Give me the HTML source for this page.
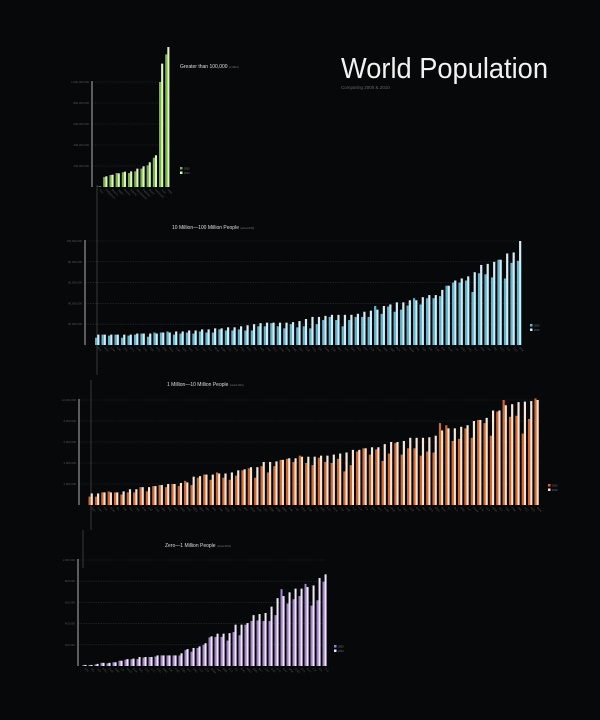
<!DOCTYPE html>
<html><head><meta charset="utf-8">
<style>
html,body{margin:0;padding:0;background:#070809;width:600px;height:720px;overflow:hidden}
svg{display:block;font-family:"Liberation Sans",sans-serif}
</style></head>
<body>
<svg id="chart" width="600" height="720" viewBox="0 0 600 720">
<rect x="0" y="0" width="600" height="720" fill="#070809"/>
<text x="341" y="78" font-size="29" fill="#f2f2f2" textLength="207" lengthAdjust="spacingAndGlyphs">World Population</text>
<text x="341" y="89" font-size="4.5" fill="#666">Comparing 2000 &amp; 2010</text>
<line x1="97" y1="185" x2="97" y2="375" stroke="#444" stroke-width="0.8"/>
<line x1="91" y1="380" x2="91" y2="530" stroke="#444" stroke-width="0.8"/>
<line x1="83" y1="530" x2="83" y2="568" stroke="#444" stroke-width="0.8"/>
</svg>
<script>
// ---- Chart 1: greater than 100 million (values in millions)
const cats1 = ["Key","Philippines","Mexico","Japan","Russia","Nigeria","Bangladesh","Pakistan","Brazil","Indonesia","USA","India","China"];
const s1_2000 = [3,95,114,133,140,133,149,175,206,279,1000,1263];
const s1_2010 = [4,102,117,130,146,149,175,197,235,302,1175,1333];
const ticks1 = ["200,000,000","400,000,000","600,000,000","800,000,000","1,000,000,000"];
const tickVals1 = [200,400,600,800,1000];

// ---- Chart 2: 10M-100M (percent of 100M)
const cats2 = "IRQ MOZ GHA NPL VEN MYS UZB SAU PRK AFG PER ROU TWN YEM AUS CIV SYR LKA MDG CMR CHL NLD KAZ BFA MLI NER MWI ECU GTM KHM ZMB SEN ZWE TCD GIN RWA CUB BEL TUN GRC BOL PRT CZE HUN SRB SWE BLR AUT DOM HTI AZE BDI CHE ISR BGR TJK HND LAO SLV PRY LBY NIC KGZ SLE TGO DNK".split(" ");
const s2_2000 = [7,10,9,10,7,9,10,11,8,12,12,13,10,11,12,11,13,12,12,15,14,14,15,14,
 14,18,18,21,18,16,20,17,18,16,20,24,27,24,18,24,27,27,27,37.5,30,37,32,34,38,45,39,45,45,47,57,60,60,62,51,69,68,65,82,64,79,81];
const s2_2010 = [10,10,10,10,10,10,11,11,11,11,12,12,13,13,14,14,15,15,16,16,17,17,18,19,
 20,21,21.5,21.5,21.5,21.5,22,23,25,27,27,28,29,29,29,29,30,32,33,34,37.5,39,41,41,43,43,46,48,48,53,57,62,64,66,70,77,78,80,82,88,89,100];
const ticks2 = ["20,000,000","40,000,000","60,000,000","80,000,000","100,000,000"];

// ---- Chart 3: 1M-10M (percent of 10M)
const cats3 = "DNK SVK FIN NOR IRL CRI NZL LBR PSE CAF COG LBN PAN MRT OMN KWT GEO MDA BIH URY JAM ARM ALB LTU QAT MNG NAM LSO BWA GMB MKD SVN LVA GNB GAB TTO BHR EST MUS CYP SWZ TLS DJI FJI GUY BTN COM MNE SLB LUX SUR CPV MLT BRN MDV BHS ISL BLZ BRB VUT WSM STP LCA GRD VCT TON FSM KIR SYC AND DMA".split(" ");
const s3_2000 = [8,8,12,13,12,10,12,12,17,13,18,19,17,20,18,23,19,26,29,24,31,26,24,28,33,35,26,37,31,37,43,44,41,47,40,
 38,45,41,40,44,32,38,51,54,48,53,42,49,59,48,54,54,47,51,50,78,76,61,63,73,64,81,78,66,89,100,84,85,68,82,101.5];
const s3_2010 = [11,11,12,12,12,13,15,15,17,17,18,19,20,20,21,21.5,27,27.5,29,29,30,30,31,33,34,36,36,41,41,41.5,43,44.5,44.5,46,46,
 46,47,47,48,49,50,52.5,52.5,54,55,55,58,60,60,61,64,64,64,64.5,66,71,73,73,74.5,76,80,81,83,90,90,95,96,98,98.5,99,100];
const ticks3 = ["2,000,000","4,000,000","6,000,000","8,000,000","10,000,000"];

// ---- Chart 4: 0-1M (percent of 1M)
const cats4 = "NIU TKL TUV NRU PLW SMR LIE MCO KNA MHL ATG SYC AND DMA KIR FSM TON VCT GRD LCA STP WSM VUT BRB BLZ ISL BHS MDV BRN MLT CPV SUR LUX SLB MNE COM BTN GUY FJI DJI TLS".split(" ");
const s4_2000 = [1,1,1.5,3,2.5,3.5,5,6,6.5,6.5,8,8.5,9,10,10,10,10,15,13.5,17,20,27,27.5,27.5,24,32,29,39,42.5,43,42.5,42.5,48,72.5,59,63,66,77.5,57,62,79.5];
const s4_2010 = [1,1,2,3,3,3.5,5,6.5,7,8.5,8.5,8.5,10,10,10,10,12,16,17,18.5,21.5,28,30.5,30.5,31,39,39,40.5,48,49,50,56,64,66,69.5,73,73,74.5,76,83,86.5];
const ticks4 = ["200,000","400,000","600,000","800,000","1,000,000"];
const tickValsPct = [20,40,60,80,100];

const NS = "http://www.w3.org/2000/svg";
const svg = document.getElementById('chart');
function mk(tag, attrs, parent){ const e=document.createElementNS(NS,tag); for(const k in attrs) e.setAttribute(k,attrs[k]); (parent||svg).appendChild(e); return e; }

function drawChart(id, cfg, cats, a, b, ticks, tickVals){
  const g = mk('g',{});
  
  
  const y = v => cfg.base - v*cfg.scale;
  const x = i => cfg.x0 + i*cfg.step;
  tickVals.forEach((tv,i)=>{
    const gl = mk('line',{x1:cfg.axisX,x2:cfg.gridEnd,y1:y(tv),y2:y(tv),stroke:'#2a2c2e','stroke-width':0.6,'stroke-dasharray':'1.5,1'},g);
    
    
    const t = mk('text',{x:cfg.axisX-3,y:y(tv)+1,'font-size':2.8,fill:'#555','text-anchor':'end'},g);
    t.textContent = ticks[i];
    
    
  });
  const ax = mk('line',{x1:cfg.axisX,x2:cfg.axisX,y1:y(tickVals[tickVals.length-1])-1,y2:cfg.base,stroke:'#8a8a8a','stroke-width':1.3},g);
  
  
  const bw = cfg.step*0.34;
  for(let i=0;i<a.length;i++){
    const r1 = mk('rect',{x:x(i),y:y(a[i]),width:bw,height:a[i]*cfg.scale,fill:cfg.c1},g);
    
    
    const r2 = mk('rect',{x:x(i)+bw,y:y(b[i]),width:bw,height:b[i]*cfg.scale,fill:cfg.c2},g);
    
    
    const lx = x(i)+bw, ly = cfg.base+3;
    const t = mk('text',{x:lx,y:ly,'font-size':2.6,fill:'#555',transform:`rotate(45 ${lx} ${ly})`},g);
    t.textContent = cats[i];
    
    
  }
  const tt = mk('text',{x:cfg.titleX,y:cfg.titleY,'font-size':5,fill:'#ddd'},g);
  tt.textContent = cfg.title;
  
  
  const ts = mk('tspan',{'font-size':2.3,fill:'#777',dx:1.5},tt);
  ts.textContent = cfg.sub;
  [[cfg.c1,'2000'],[cfg.c2,'2010']].forEach((p,k)=>{
    const lr = mk('rect',{x:cfg.legX,y:cfg.legY+k*4.5,width:2.5,height:2.5,fill:p[0]},g);
    
    
    const lt = mk('text',{x:cfg.legX+4,y:cfg.legY+k*4.5+2.3,'font-size':2.5,fill:'#777'},g);
    lt.textContent = p[1];
    
    
  });
}

drawChart('chart-over-100-million',{base:187,scale:0.105,x0:97,step:6.2,axisX:92,gridEnd:170,c1:'#74b843',c2:'#e3f3c6',
  title:'Greater than 100,000',sub:'(in billion)',titleX:180,titleY:68,legX:180,legY:167}, cats1,s1_2000,s1_2010,ticks1,tickVals1);
drawChart('chart-10-100-million',{base:345,scale:1.04,x0:95,step:6.49,axisX:85,gridEnd:520,c1:'#5fb4cf',c2:'#d2edf5',
  title:'10 Million\u2014100 Million People',sub:'(sorted 2010)',titleX:172,titleY:229,legX:530,legY:324}, cats2,s2_2000,s2_2010,ticks2,tickValsPct);
drawChart('chart-1-10-million',{base:505,scale:1.05,x0:88.5,step:6.37,axisX:79,gridEnd:540,c1:'#d8652a',c2:'#f7e6da',
  title:'1 Million\u201410 Million People',sub:'(sorted 2010)',titleX:167,titleY:386,legX:548,legY:484}, cats3,s3_2000,s3_2010,ticks3,tickValsPct);
drawChart('chart-0-1-million',{base:666,scale:1.06,x0:82.5,step:6.0,axisX:78,gridEnd:325,c1:'#9d80cc',c2:'#eee6f8',
  title:'Zero\u20141 Million People',sub:'(sorted 2010)',titleX:165,titleY:547,legX:334,legY:645}, cats4,s4_2000,s4_2010,ticks4,tickValsPct);
</script>
</body></html>
